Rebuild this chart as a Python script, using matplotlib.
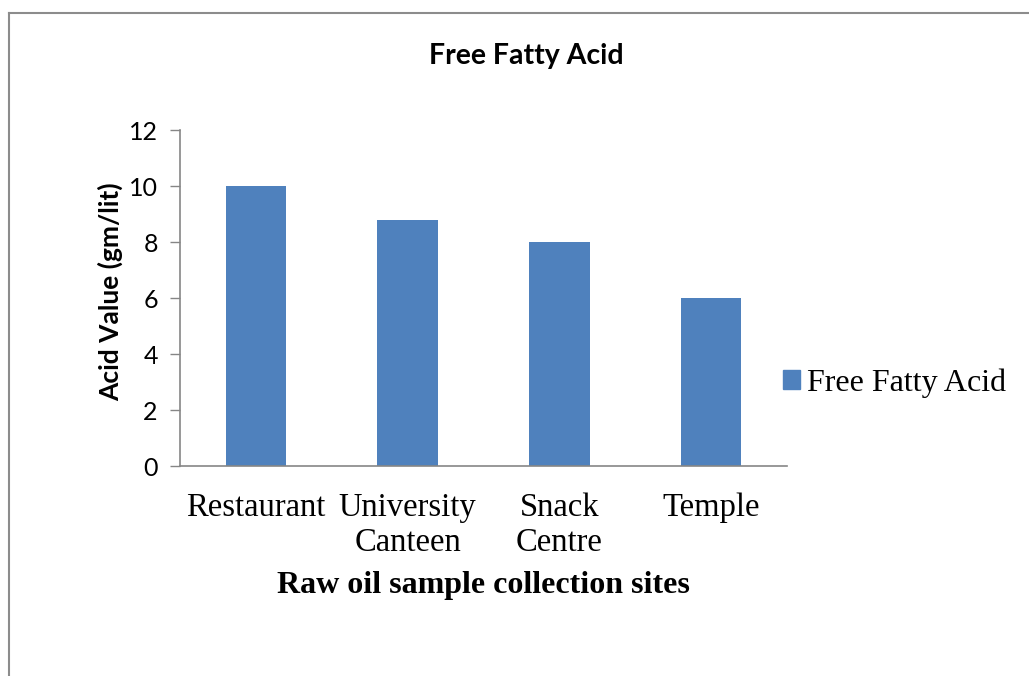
import matplotlib.pyplot as plt
from matplotlib.lines import Line2D
from matplotlib.patches import Patch

# data
sites = ["Restaurant", "University\nCanteen", "Snack\nCentre", "Temple"]
acid_value = [10.0, 8.8, 8.0, 6.0]
yticks = [0, 2, 4, 6, 8, 10, 12]

W, H = 1029, 676
fig = plt.figure(figsize=(W / 100, H / 100), dpi=100)
fig.patch.set_facecolor("white")

# outer frame (only left and top visible in the crop)
fig.add_artist(Line2D([9 / W, 9 / W], [0, 1 - 13 / H], color="#8c8c8c", lw=1.5))
fig.add_artist(Line2D([9 / W, 1], [1 - 13 / H, 1 - 13 / H], color="#8c8c8c", lw=1.5))

ax = fig.add_axes([180 / W, 1 - 466 / H, (787 - 180) / W, (466 - 130) / H])
bar_color = "#4f81bd"
ax.bar(range(len(sites)), acid_value, width=0.4, color=bar_color, zorder=2)
ax.set_xlim(-0.5, len(sites) - 0.5)
ax.set_ylim(0, 12)
ax.set_yticks(yticks)
ax.set_yticklabels([str(t) for t in yticks], fontname="Lato", fontsize=18)
ax.set_xticks(range(len(sites)))
ax.set_xticklabels(sites, fontname="Liberation Serif", fontsize=23.5, linespacing=1.2)
ax.tick_params(axis="x", length=0, pad=19)
ax.tick_params(axis="y", length=7, width=1, color="#868686", pad=9)

for s in ["top", "right"]:
    ax.spines[s].set_visible(False)
for s in ["left", "bottom"]:
    ax.spines[s].set_color("#868686")
    ax.spines[s].set_linewidth(1.2)

ax.set_ylabel("Acid Value (gm/lit)", fontname="Lato", fontweight="bold",
              fontsize=19, labelpad=10)
ax.yaxis.set_label_coords(110 / W, 1 - 292 / H, transform=fig.transFigure)
ax.set_xlabel("Raw oil sample collection sites", fontname="Liberation Serif",
              fontweight="bold", fontsize=23)
ax.xaxis.set_label_coords(483 / W, 1 - 585 / H, transform=fig.transFigure)
ax.xaxis.label.set_va("center")
ax.yaxis.label.set_va("center")

fig.text(526 / W, 1 - 56 / H, "Free Fatty Acid", fontname="Lato",
         fontweight="bold", fontsize=20.5, ha="center", va="center")

fig.legend(handles=[Patch(color=bar_color, label="Free Fatty Acid")],
           loc="center left", bbox_to_anchor=(754 / W, 1 - 383 / H),
           frameon=False, prop={"family": "Liberation Serif", "size": 23},
           handlelength=0.55, handleheight=0.55, handletextpad=0.2)

fig.savefig("out.png", dpi=100, facecolor="white")
